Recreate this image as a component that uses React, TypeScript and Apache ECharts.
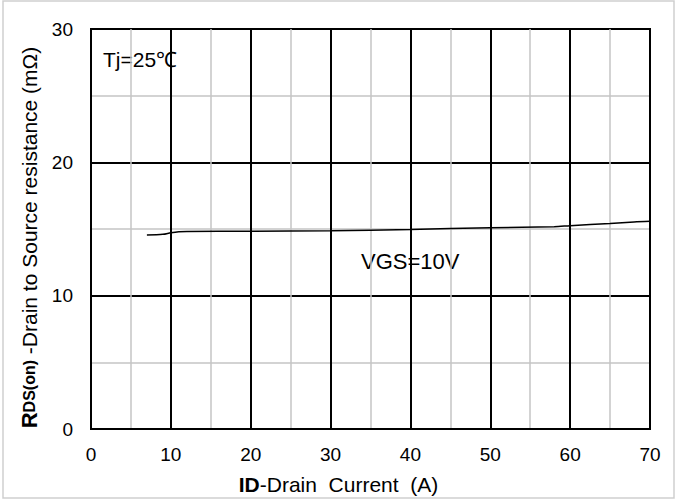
import React, { useEffect, useRef } from "react";
import * as echarts from "echarts";

// Drain current (A) and on-resistance (mΩ)
const currentA = [7, 9, 10, 11, 12, 20, 30, 40, 50, 58, 60, 65, 68, 70];
const rdsOn = [14.55, 14.6, 14.72, 14.8, 14.82, 14.83, 14.87, 14.97, 15.1, 15.17, 15.25, 15.42, 15.53, 15.58];

const xAxisRange = [0, 70];
const yAxisRange = [0, 30];
const annotations = ["Tj=25℃", "VGS=10V"];

const FONT = "Liberation Sans, Arial, sans-serif";

export default function App() {
  const ref = useRef<HTMLDivElement>(null);
  useEffect(() => {
    if (!ref.current) return;
    document.body.style.margin = "0";
    const chart = echarts.init(ref.current, undefined, { renderer: "svg" });
    const data = currentA.map((x, i) => [x, rdsOn[i]]);
    chart.setOption({
      animation: false,
      backgroundColor: "#fff",
      grid: {
        left: 91,
        right: 27,
        top: 29,
        bottom: 72,
        containLabel: false,
        outerBoundsMode: "none",
        show: true,
        borderColor: "#000",
        borderWidth: 2,
        backgroundColor: "transparent",
      },
      xAxis: {
        type: "value",
        min: xAxisRange[0],
        max: xAxisRange[1],
        interval: 10,
        name: "{b|ID}-Drain  Current  (A)",
        nameLocation: "middle",
        nameGap: 45,
        nameTextStyle: {
          color: "#000",
          fontFamily: FONT,
          fontSize: 21,
          padding: [0, 64, 0, 0],
          rich: { b: { fontWeight: "bold", fontSize: 21, fontFamily: FONT, color: "#000" } },
        },
        axisLine: { show: true, lineStyle: { color: "#000", width: 2 } },
        axisTick: { show: false },
        axisLabel: { color: "#000", fontSize: 19, fontFamily: FONT, margin: 16 },
        splitLine: { show: true, lineStyle: { color: "#000", width: 2 } },
        minorTick: { show: false, splitNumber: 2 },
        minorSplitLine: { show: true, lineStyle: { color: "#c4c4c4", width: 1.5 } },
      },
      yAxis: {
        type: "value",
        min: yAxisRange[0],
        max: yAxisRange[1],
        interval: 10,
        name: "{b|R}{s|DS(on)} -Drain to Source resistance (mΩ)",
        nameLocation: "middle",
        nameGap: 37,
        nameTextStyle: {
          color: "#000",
          fontFamily: FONT,
          fontSize: 21,
          padding: [0, 17, 0, 0],
          rich: {
            b: { fontWeight: "bold", fontSize: 22, fontFamily: FONT, color: "#000" },
            s: { fontWeight: "bold", fontSize: 16, fontFamily: FONT, color: "#000" },
          },
        },
        axisLine: { show: true, lineStyle: { color: "#000", width: 2 } },
        axisTick: { show: false },
        axisLabel: { color: "#000", fontSize: 19, fontFamily: FONT, margin: 18 },
        splitLine: { show: true, lineStyle: { color: "#000", width: 2 } },
        minorTick: { show: false, splitNumber: 2 },
        minorSplitLine: { show: true, lineStyle: { color: "#c4c4c4", width: 1.5 } },
      },
      graphic: [
        {
          type: "rect",
          silent: true,
          z: -10,
          shape: { x: 3, y: 1, width: 671, height: 497 },
          style: { fill: "none", stroke: "#cfcfcf", lineWidth: 1.5 },
        },
        {
          type: "text",
          left: 103,
          top: 49,
          style: { text: annotations[0], fill: "#000", fontSize: 21, fontFamily: FONT },
        },
        {
          type: "text",
          left: 361,
          top: 250,
          style: { text: annotations[1], fill: "#000", fontSize: 22, fontFamily: FONT },
        },
      ],
      series: [
        {
          type: "line",
          data,
          smooth: 0.3,
          showSymbol: false,
          lineStyle: { color: "#000", width: 1.5 },
          z: 5,
        },
      ],
    });
    return () => chart.dispose();
  }, []);
  return (
    <div
      ref={ref}
      style={{ position: "absolute", left: 0, top: 0, width: 677, height: 501 }}
    />
  );
}
